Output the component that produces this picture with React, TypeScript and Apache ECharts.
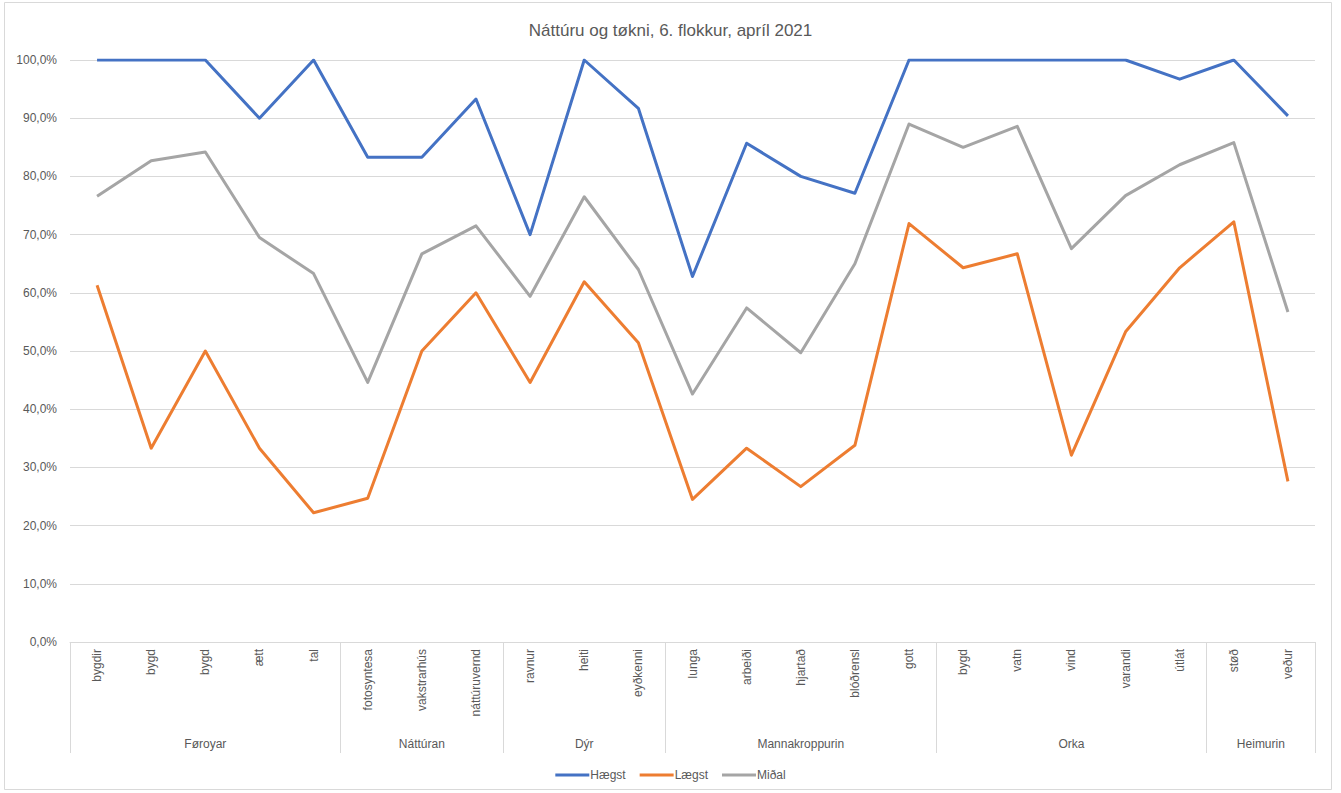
import React, { useEffect, useRef } from "react";
import * as echarts from "echarts";

const TITLE = "Náttúru og tøkni, 6. flokkur, apríl 2021";

const categories = [
  "bygdir", "bygd", "bygd", "ætt", "tal",
  "fotosyntesa", "vakstrarhús", "náttúruvernd",
  "ravnur", "heiti", "eyðkenni",
  "lunga", "arbeiði", "hjartað", "blóðrensl", "gott",
  "bygd", "vatn", "vind", "varandi", "útlát",
  "støð", "veður",
];

const groupNames = ["Føroyar", "Náttúran", "Dýr", "Mannakroppurin", "Orka", "Heimurin"];
const groupSizes = [5, 3, 3, 5, 5, 2];

const hægst = [
  100, 100, 100, 90, 100,
  83.3, 83.3, 93.3,
  70, 100, 91.7,
  62.8, 85.7, 80, 77.1, 100,
  100, 100, 100, 100, 96.7,
  100, 90.4,
];

const lægst = [
  61.3, 33.3, 50, 33.3, 22.2,
  24.7, 50, 60,
  44.6, 61.9, 51.4,
  24.5, 33.3, 26.7, 33.8, 71.9,
  64.3, 66.7, 32.1, 53.3, 64.3,
  72.2, 27.6,
];

const miðal = [
  76.6, 82.7, 84.2, 69.5, 63.3,
  44.6, 66.7, 71.5,
  59.4, 76.5, 64,
  42.6, 57.4, 49.7, 65, 89,
  85, 88.6, 67.6, 76.7, 82,
  85.8, 56.7,
];

const yTicks = { min: 0, max: 100, interval: 10 };

const FONT = "'Liberation Sans', Arial, sans-serif";
const TXT = "#595959";
const GRIDC = "#d9d9d9";

export default function App() {
  const ref = useRef<HTMLDivElement>(null);

  useEffect(() => {
    if (!ref.current) return;
    const chart = echarts.init(ref.current, undefined, { renderer: "svg" });

    const boundaries: number[] = [0];
    const centers: number[] = [];
    groupSizes.forEach((s) => {
      const start = boundaries[boundaries.length - 1];
      centers.push(start + s / 2);
      boundaries.push(start + s);
    });

    const fmtPct = (v: number) => v.toFixed(1).replace(".", ",") + "%";

    chart.setOption({
      animation: false,
      textStyle: { fontFamily: FONT },
      title: {
        text: TITLE,
        left: "center",
        top: 17,
        textStyle: { fontFamily: FONT, fontSize: 17, fontWeight: "normal", color: TXT },
      },
      graphic: [
        {
          type: "rect",
          shape: { x: 4.5, y: 2.5, width: 1327, height: 787 },
          style: { fill: "none", stroke: GRIDC, lineWidth: 1 },
          silent: true,
        },
      ],
      legend: {
        bottom: 7,
        left: "center",
        icon: "rect",
        itemWidth: 34,
        itemHeight: 3,
        itemGap: 14,
        textStyle: { fontFamily: FONT, fontSize: 12, color: TXT, padding: [0, 0, 0, -4] },
        data: ["Hægst", "Lægst", "Miðal"],
      },
      grid: {
        left: 70,
        right: 26,
        top: 60,
        bottom: 151,
        containLabel: false,
        outerBoundsMode: "none",
      },
      xAxis: [
        {
          type: "category",
          data: categories,
          boundaryGap: true,
          position: "bottom",
          axisLine: { show: true, lineStyle: { color: GRIDC, width: 1 } },
          axisTick: { show: false },
          axisLabel: {
            rotate: 90,
            interval: 0,
            margin: 7,
            fontSize: 12,
            color: TXT,
            fontFamily: FONT,
          },
          splitLine: { show: false },
        },
        {
          type: "value",
          min: 0,
          max: categories.length,
          position: "bottom",
          axisLine: { show: false },
          axisTick: {
            show: true,
            length: 111,
            customValues: boundaries,
            lineStyle: { color: GRIDC, width: 1 },
          },
          axisLabel: {
            show: true,
            customValues: centers,
            margin: 96,
            fontSize: 12,
            color: TXT,
            fontFamily: FONT,
            formatter: (v: number) => {
              const i = centers.findIndex((c) => Math.abs(c - v) < 1e-6);
              return i >= 0 ? groupNames[i] : "";
            },
          },
          splitLine: { show: false },
        },
      ],
      yAxis: {
        type: "value",
        min: yTicks.min,
        max: yTicks.max,
        interval: yTicks.interval,
        axisLine: { show: false },
        axisTick: { show: false },
        axisLabel: {
          formatter: fmtPct,
          fontSize: 12,
          color: TXT,
          margin: 13,
          fontFamily: FONT,
        },
        splitLine: { lineStyle: { color: GRIDC, width: 1 } },
      },
      series: [
        {
          name: "Hægst",
          type: "line",
          data: hægst,
          xAxisIndex: 0,
          showSymbol: false,
          symbol: "none",
          lineStyle: { color: "#4472C4", width: 3, join: "round" },
          itemStyle: { color: "#4472C4" },
        },
        {
          name: "Lægst",
          type: "line",
          data: lægst,
          xAxisIndex: 0,
          showSymbol: false,
          symbol: "none",
          lineStyle: { color: "#ED7D31", width: 3, join: "round" },
          itemStyle: { color: "#ED7D31" },
        },
        {
          name: "Miðal",
          type: "line",
          data: miðal,
          xAxisIndex: 0,
          showSymbol: false,
          symbol: "none",
          lineStyle: { color: "#A5A5A5", width: 3, join: "round" },
          itemStyle: { color: "#A5A5A5" },
        },
      ],
    });

    return () => chart.dispose();
  }, []);

  return (
    <div
      ref={ref}
      style={{ position: "absolute", left: 0, top: 0, width: 1341, height: 793, background: "#fff" }}
    />
  );
}
